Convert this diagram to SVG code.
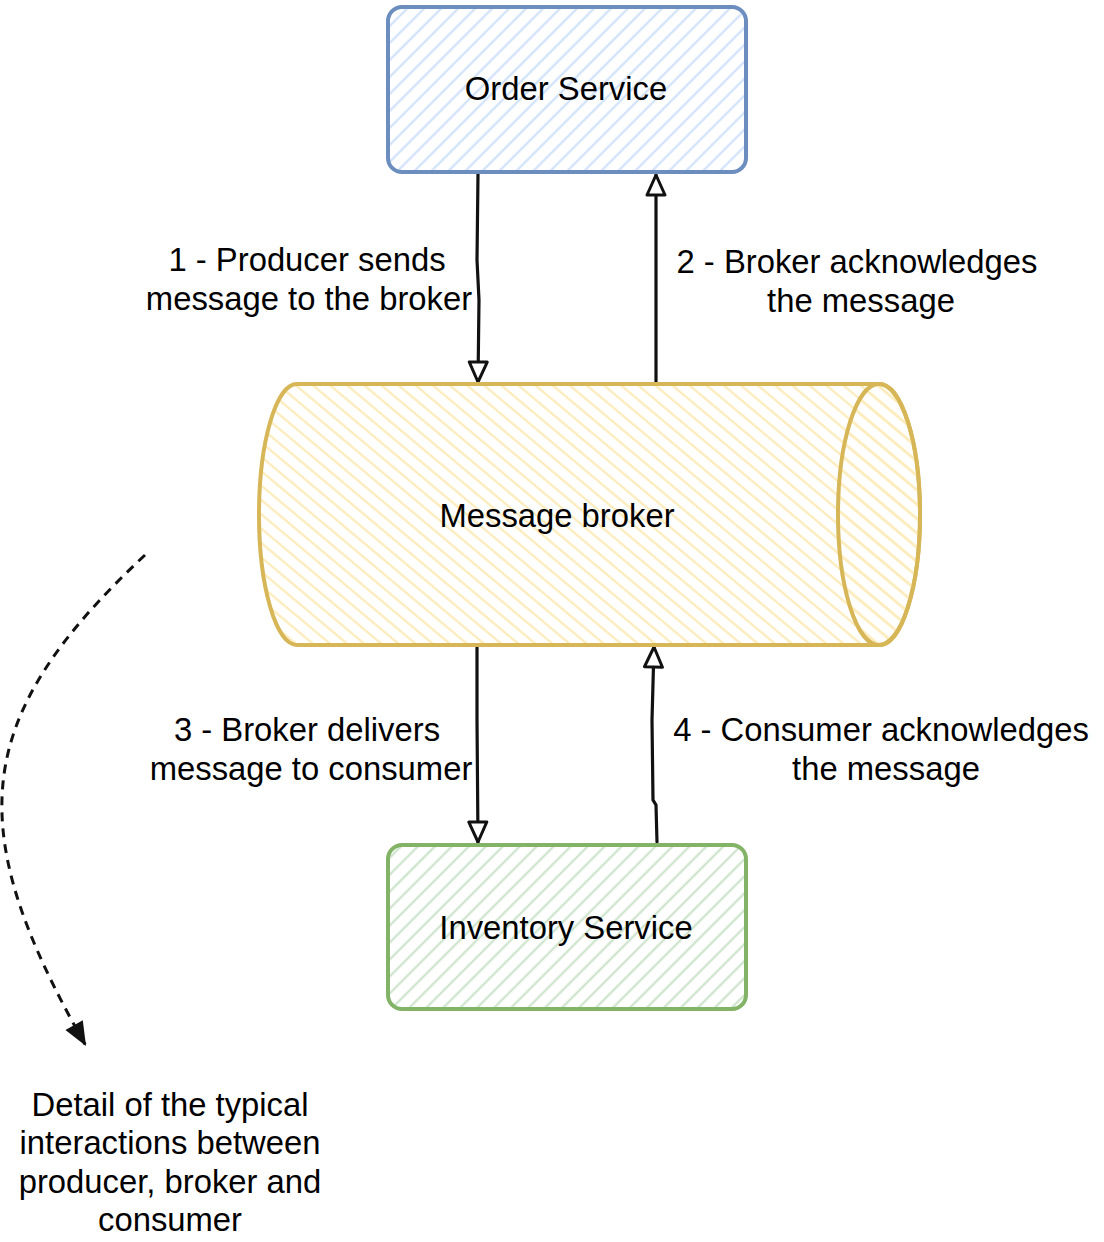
<svg xmlns="http://www.w3.org/2000/svg" width="1104" height="1242" viewBox="0 0 1104 1242">
<style>
text{font-family:"Liberation Sans",Arial,Helvetica,sans-serif;font-size:32.8px;fill:#000;text-anchor:middle}
.conn{stroke:#111;stroke-width:3.2;fill:none;stroke-linecap:round}
.dash{stroke:#111;stroke-width:3;fill:none;stroke-dasharray:9 7}
</style>
<defs>
<pattern id="hBlue" width="12" height="12" patternUnits="userSpaceOnUse" patternTransform="rotate(45)"><line x1="6" y1="0" x2="6" y2="12" stroke="#d3e3fa" stroke-width="2.4"/></pattern>
<pattern id="hGreen" width="12" height="12" patternUnits="userSpaceOnUse" patternTransform="rotate(45)"><line x1="6" y1="0" x2="6" y2="12" stroke="#cfe5ce" stroke-width="2.4"/></pattern>
<pattern id="hYellow" width="11" height="11" patternUnits="userSpaceOnUse" patternTransform="rotate(-50)"><line x1="5" y1="0" x2="5" y2="11" stroke="#fcecbd" stroke-width="2.4"/></pattern>
<marker id="open" markerUnits="userSpaceOnUse" viewBox="0 0 24 22" markerWidth="24" markerHeight="22" refX="22" refY="11" orient="auto">
<path d="M2,2 L22,11 L2,20 Z" fill="#fff" stroke="#111" stroke-width="3" stroke-linejoin="round"/>
</marker>
<marker id="block" markerUnits="userSpaceOnUse" viewBox="0 0 26 22" markerWidth="26" markerHeight="22" refX="25" refY="11" orient="auto">
<path d="M1,1 L25,11 L1,21 Z" fill="#111"/>
</marker>
</defs>

<g id="connectors">
<path class="conn" d="M478,174 L477,260 L479,300 L478,382" marker-end="url(#open)"/>
<path class="conn" d="M656,384 L656,175" marker-end="url(#open)"/>
<path class="conn" d="M477,646 L477,720 L478,842" marker-end="url(#open)"/>
<path class="conn" d="M657,842 L656,805 L653,800 L652,720 L654,647" marker-end="url(#open)"/>
<path class="dash" d="M145,555 C-29,718 -39,827 86,1046" marker-end="url(#block)"/>
</g>

<g id="order-service">
<rect x="388" y="7" width="358" height="165" rx="14" fill="url(#hBlue)" stroke="#6c8ebf" stroke-width="4"/>
<text x="566" y="100">Order Service</text>
</g>

<g id="message-broker">
<path d="M297,384 L879,384 A41,130.5 0 0 1 879,645 L297,645 A38,130.5 0 0 1 297,384 Z" fill="url(#hYellow)" stroke="#d6b656" stroke-width="4"/>
<ellipse cx="879" cy="514.5" rx="41" ry="130.5" fill="url(#hYellow)" stroke="#d6b656" stroke-width="4"/>
<text x="557" y="527">Message broker</text>
</g>

<g id="inventory-service">
<rect x="388" y="845" width="358" height="164" rx="14" fill="url(#hGreen)" stroke="#82b366" stroke-width="4"/>
<text x="566" y="939">Inventory Service</text>
</g>

<g id="label-1">
<text x="307" y="271">1 - Producer sends</text>
<text x="309" y="310">message to the broker</text>
</g>
<g id="label-2">
<text x="857" y="273">2 - Broker acknowledges</text>
<text x="861" y="312">the message</text>
</g>
<g id="label-3">
<text x="307" y="741">3 - Broker delivers</text>
<text x="311" y="780">message to consumer</text>
</g>
<g id="label-4">
<text x="881" y="741">4 - Consumer acknowledges</text>
<text x="886" y="780">the message</text>
</g>
<g id="detail-note">
<text x="170" y="1116">Detail of the typical</text>
<text x="170" y="1154">interactions between</text>
<text x="170" y="1193">producer, broker and</text>
<text x="170" y="1231">consumer</text>
</g>
</svg>
